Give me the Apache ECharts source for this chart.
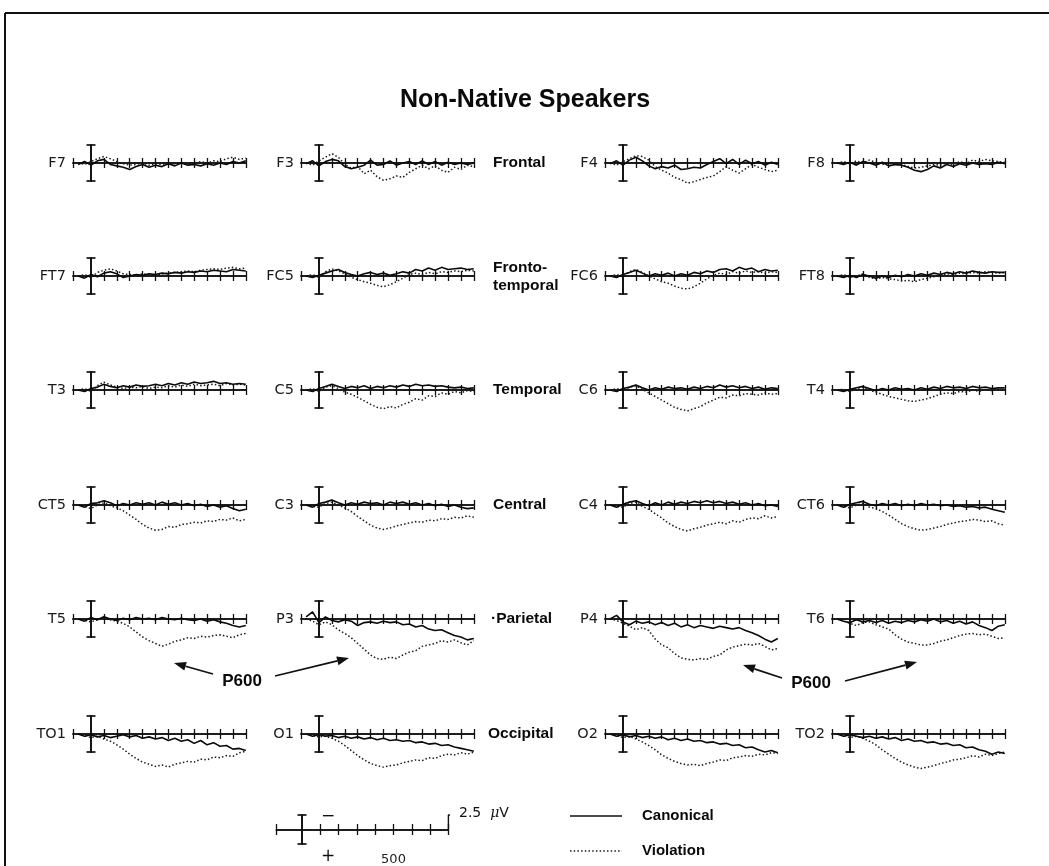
<!DOCTYPE html>
<html><head><meta charset="utf-8">
<script src="https://cdn.jsdelivr.net/npm/echarts@6/dist/echarts.min.js"></script>
<style>html,body{margin:0;padding:0;background:#fff}#c{width:1049px;height:866px}</style>
</head><body><div id="c"></div>
<script>
// ---------------- DATA ----------------
const times = [-100,-50,0,50,100,150,200,250,300,350,400,450,500,550,600,650,700,750,800,850,900,950,1000,1050,1100,1150,1200];
const electrodeRows = [
  ['F7','F3','F4','F8'],
  ['FT7','FC5','FC6','FT8'],
  ['T3','C5','C6','T4'],
  ['CT5','C3','C4','CT6'],
  ['T5','P3','P4','T6'],
  ['TO1','O1','O2','TO2']
];
const regionLabels = ['Frontal','Fronto-\ntemporal','Temporal','Central','·Parietal','Occipital'];
const xTickValues = [-140,100,200,300,400,500,600,700,800,900,1000,1100,1200];
const legendTickValues = [-140,100,200,300,400,500,600,700,800];
const legendTickLabels = [500];
const seriesNames = ['Canonical','Violation'];

// canonical (c) and violation (v) in microvolts, positive plotted downward
const cF7 = [0.2,-0.2,0.3,-0.3,-0.5,0.2,0.4,0.6,0.9,0.5,0.2,0.6,0.3,0.5,0.1,0.4,0.0,0.3,0.2,0.4,0.1,0.3,0.0,0.2,-0.2,0.0,-0.3];
const vF7 = [0.0,0.2,-0.2,-0.6,-0.9,-0.6,-0.2,0.1,0.3,0.2,0.0,0.3,0.1,0.2,0.0,0.1,-0.1,0.2,0.0,-0.2,0.0,-0.3,-0.2,-0.6,-0.8,-0.5,-0.7];
const cF3 = [0.1,-0.3,0.4,-0.2,-0.5,-0.3,0.5,0.8,0.6,0.3,-0.4,0.3,0.2,-0.3,0.3,0.0,-0.2,0.2,-0.3,0.2,-0.2,0.3,-0.1,0.2,0.0,0.2,0.0];
const vF3 = [0.0,0.3,-0.3,-0.8,-1.3,-0.8,0.2,0.7,0.5,1.5,1.0,1.9,2.4,2.2,1.8,2.0,1.3,0.8,0.3,0.8,0.4,1.0,1.3,0.6,0.9,0.3,0.5];
const cF4 = [0.1,-0.3,0.3,-0.4,-0.8,-0.3,0.4,0.8,0.5,0.7,0.3,0.9,0.8,0.6,0.7,0.2,-0.2,-0.6,0.1,-0.5,0.2,-0.4,0.1,-0.2,0.3,-0.1,0.2];
const vF4 = [0.0,0.3,-0.2,-0.6,-1.0,-0.9,-0.4,0.5,1.0,1.4,2.0,2.3,2.8,2.6,2.3,2.0,1.8,1.2,0.5,1.0,1.4,0.8,0.2,0.6,0.9,1.2,1.0];
const cF8 = [0.0,0.2,-0.1,0.3,-0.2,0.0,0.3,-0.1,0.4,0.2,0.3,0.6,1.0,1.2,0.9,0.4,0.7,0.2,0.5,0.1,0.3,0.0,0.2,0.1,0.2,-0.1,0.1];
const vF8 = [0.0,-0.2,0.1,-0.3,0.0,-0.4,-0.1,0.2,0.0,0.3,0.2,0.5,0.7,0.6,0.4,0.2,0.3,0.0,0.2,-0.2,0.1,-0.4,-0.2,-0.5,-0.3,-0.2,-0.1];

const cFT7 = [0.0,0.3,-0.2,0.1,-0.4,-0.6,-0.3,0.2,0.0,-0.2,-0.1,-0.3,-0.2,-0.4,-0.3,-0.5,-0.4,-0.6,-0.5,-0.7,-0.6,-0.8,-0.7,-0.6,-0.9,-0.8,-0.7];
const vFT7 = [0.0,-0.2,0.2,-0.5,-0.8,-1.0,-0.7,-0.3,-0.2,-0.1,-0.3,-0.2,0.0,-0.3,-0.4,-0.5,-0.6,-0.7,-0.6,-0.8,-0.9,-1.0,-0.9,-1.1,-1.2,-1.0,-1.1];
const cFC5 = [0.0,0.2,-0.1,-0.4,-0.7,-0.9,-0.5,-0.2,0.0,-0.3,-0.5,-0.2,-0.4,-0.1,-0.3,-0.6,-0.4,-0.9,-0.7,-1.1,-0.8,-1.2,-0.9,-1.0,-1.1,-0.9,-1.0];
const vFC5 = [0.0,-0.2,0.2,-0.6,-1.0,-0.7,-0.3,0.2,0.5,0.8,1.0,1.3,1.5,1.2,0.8,0.3,-0.2,-0.4,-0.2,-0.5,-0.3,-0.6,-0.5,-0.7,-0.6,-0.8,-0.7];
const cFC6 = [0.0,0.2,-0.2,-0.5,-0.8,-0.4,0.0,-0.3,-0.1,-0.4,0.0,-0.3,-0.1,-0.5,-0.3,-0.7,-0.5,-0.9,-1.0,-0.7,-1.2,-0.9,-1.1,-0.6,-0.9,-0.7,-0.8];
const vFC6 = [0.0,-0.2,0.1,-0.6,-0.9,-0.5,0.0,0.4,0.8,1.0,1.4,1.7,1.8,1.5,1.0,0.4,-0.1,-0.4,-0.2,-0.6,-0.4,-0.7,-0.5,-0.6,-0.4,-0.6,-0.5];
const cFT8 = [0.0,0.2,-0.1,0.2,-0.2,0.0,0.3,0.0,0.2,-0.1,0.1,-0.2,0.0,-0.3,-0.1,-0.4,-0.2,-0.5,-0.3,-0.6,-0.4,-0.7,-0.5,-0.4,-0.6,-0.5,-0.5];
const vFT8 = [0.0,-0.2,0.2,0.0,-0.3,0.2,0.4,0.2,0.4,0.5,0.7,0.6,0.8,0.5,0.3,0.1,-0.1,-0.3,-0.2,-0.4,-0.3,-0.5,-0.4,-0.6,-0.5,-0.4,-0.5];

const cT3 = [0.0,0.2,-0.2,-0.4,-0.8,-0.5,-0.3,-0.6,-0.4,-0.7,-0.5,-0.6,-0.8,-0.6,-0.9,-0.7,-1.0,-0.8,-1.1,-0.9,-1.0,-1.2,-0.9,-1.0,-0.8,-0.9,-0.8];
const vT3 = [0.0,-0.2,0.2,-0.6,-1.1,-0.7,-0.4,-0.2,-0.4,-0.3,-0.5,-0.2,-0.4,-0.3,-0.6,-0.4,-0.7,-0.5,-0.8,-0.6,-0.7,-0.8,-0.6,-0.9,-0.7,-0.8,-0.7];
const cC5 = [0.0,0.2,-0.2,-0.5,-0.8,-0.5,-0.2,-0.5,-0.3,-0.6,-0.2,-0.5,-0.3,-0.6,-0.4,-0.7,-0.5,-0.8,-0.6,-0.7,-0.5,-0.6,-0.4,-0.3,-0.4,-0.2,-0.3];
const vC5 = [0.0,-0.2,0.2,-0.4,-0.6,-0.2,0.3,0.6,1.0,1.5,2.0,2.4,2.6,2.3,2.5,2.0,1.7,1.2,1.4,0.8,0.9,0.4,0.6,0.2,0.4,0.1,0.2];
const cC6 = [0.0,0.2,-0.2,-0.4,-0.7,-0.3,0.0,-0.3,-0.1,-0.4,-0.2,-0.3,-0.1,-0.4,-0.2,-0.5,-0.3,-0.7,-0.4,-0.6,-0.3,-0.5,-0.2,-0.4,-0.1,-0.3,-0.2];
const vC6 = [0.0,-0.2,0.1,-0.4,-0.6,-0.1,0.4,0.9,1.4,1.9,2.4,2.7,2.9,2.6,2.3,1.8,1.4,1.0,1.1,0.7,0.8,0.5,0.6,0.7,0.4,0.6,0.5];
const cT4 = [0.0,0.2,-0.1,-0.3,-0.5,-0.2,0.1,-0.2,0.0,-0.3,-0.1,-0.2,0.0,-0.3,-0.1,-0.4,-0.2,-0.5,-0.3,-0.4,-0.2,-0.5,-0.3,-0.4,-0.2,-0.3,-0.3];
const vT4 = [0.0,-0.1,0.2,-0.2,-0.4,0.0,0.3,0.6,0.9,1.1,1.3,1.5,1.6,1.4,1.2,0.9,0.6,0.4,0.5,0.2,0.3,0.0,0.2,-0.1,0.1,-0.1,0.0];

const cCT5 = [0.0,0.3,-0.2,-0.3,-0.6,-0.3,0.1,-0.2,0.0,-0.3,-0.1,-0.3,0.0,-0.4,-0.1,-0.3,0.0,-0.2,0.1,-0.1,0.2,0.0,0.3,0.1,0.5,0.8,0.6];
const vCT5 = [0.0,0.2,0.5,0.0,-0.3,0.1,0.4,0.8,1.4,2.0,2.7,3.2,3.5,3.4,3.0,3.1,2.7,2.6,2.4,2.5,2.2,2.3,2.0,2.1,1.8,2.2,2.0];
const cC3 = [0.0,0.3,-0.2,-0.4,-0.7,-0.3,0.0,-0.3,-0.1,-0.4,-0.2,-0.3,0.0,-0.4,-0.2,-0.4,-0.1,-0.3,0.0,-0.2,0.1,-0.1,0.2,0.0,0.3,0.5,0.4];
const vC3 = [0.0,0.2,0.3,-0.2,-0.4,0.0,0.4,0.9,1.6,2.2,2.8,3.2,3.4,3.2,2.9,2.7,2.5,2.3,2.4,2.1,2.2,1.9,2.0,1.7,1.8,1.5,1.7];
const cC4 = [0.0,0.3,-0.1,-0.4,-0.6,-0.2,0.1,-0.3,0.0,-0.4,-0.1,-0.4,-0.2,-0.5,-0.3,-0.6,-0.3,-0.5,-0.2,-0.4,-0.1,-0.3,0.0,-0.2,0.1,0.0,0.2];
const vC4 = [0.0,0.2,0.3,-0.2,-0.4,0.2,0.6,1.2,1.8,2.5,3.0,3.4,3.6,3.3,3.1,2.8,2.6,2.4,2.6,2.2,2.4,2.0,1.8,1.9,1.5,1.8,1.6];
const cCT6 = [0.0,0.3,-0.1,-0.3,-0.5,-0.1,0.1,-0.2,0.0,-0.2,0.1,-0.1,0.1,-0.2,0.0,-0.1,0.1,0.0,0.2,0.1,0.3,0.2,0.4,0.3,0.6,0.8,1.0];
const vCT6 = [0.0,0.2,0.4,0.0,-0.2,0.3,0.5,0.9,1.4,2.0,2.6,3.0,3.3,3.5,3.4,3.2,3.0,2.7,2.5,2.3,2.2,2.0,2.1,2.3,2.2,2.6,2.8];

const cT5 = [0.0,0.3,-0.2,0.1,-0.3,0.0,0.2,-0.1,0.1,-0.2,0.0,-0.1,0.1,-0.2,0.0,0.1,-0.1,0.1,0.2,0.0,0.3,0.1,0.4,0.6,0.9,1.1,0.9];
const vT5 = [0.0,0.2,0.4,0.1,-0.2,0.1,0.3,0.6,1.1,1.8,2.5,3.0,3.4,3.8,3.5,3.1,2.9,2.6,2.7,2.4,2.5,2.3,2.2,2.4,2.6,2.2,2.0];
const cP3 = [-0.3,-1.0,0.5,-0.3,0.2,0.4,0.1,0.3,0.9,0.5,0.4,0.6,0.3,0.5,0.4,0.8,0.7,1.1,0.9,1.4,1.6,1.5,1.9,2.3,2.5,2.9,2.7];
const vP3 = [0.0,0.3,0.8,0.4,0.8,1.5,2.0,2.6,3.4,4.2,5.0,5.5,5.6,5.3,5.5,5.0,4.6,4.4,3.8,3.6,3.4,3.0,3.2,2.9,3.3,3.6,3.0];
const cP4 = [0.0,-0.5,0.4,0.8,0.3,0.6,0.4,0.8,0.5,0.9,0.6,1.1,0.8,1.2,0.9,1.1,1.3,1.0,1.2,1.4,1.2,1.6,1.9,2.3,2.8,3.2,2.7];
const vP4 = [0.0,0.2,0.6,1.0,1.5,1.2,1.6,2.8,3.6,4.0,4.8,5.4,5.6,5.7,5.5,5.6,5.2,5.0,4.3,3.9,3.7,3.5,3.6,3.4,3.8,4.3,4.1];
const cT6 = [0.0,0.3,0.5,0.1,0.4,0.2,0.5,0.2,0.6,0.3,0.5,0.2,0.4,0.1,0.3,0.0,0.4,0.2,0.6,0.3,0.7,0.4,0.9,1.2,1.6,1.0,0.8];
const vT6 = [0.0,0.3,0.6,0.9,0.5,0.4,0.8,1.1,1.4,2.2,2.8,3.2,3.4,3.6,3.6,3.4,3.1,2.9,2.6,2.3,2.1,2.0,2.2,2.1,2.4,2.7,2.6];

const cTO1 = [0.0,0.3,0.1,0.4,0.2,0.5,0.3,0.1,0.4,0.2,0.6,0.4,0.7,0.5,0.9,0.6,1.0,0.8,1.3,0.9,1.5,1.2,1.7,1.6,2.1,2.0,2.3];
const vTO1 = [0.0,0.2,0.5,0.3,0.7,1.0,1.5,2.1,2.8,3.4,3.9,4.2,4.5,4.3,4.6,4.2,4.0,3.8,3.9,3.5,3.6,3.2,3.3,3.0,3.1,2.6,2.4];
const cO1 = [0.0,0.3,0.1,0.3,0.2,0.5,0.3,0.6,0.4,0.7,0.5,0.8,0.6,0.9,0.8,1.0,0.9,1.2,1.1,1.4,1.3,1.6,1.5,1.8,2.0,2.2,2.4];
const vO1 = [0.0,0.2,0.4,0.3,0.6,1.0,1.6,2.3,3.0,3.6,4.1,4.4,4.6,4.4,4.3,4.0,3.8,3.6,3.7,3.3,3.4,3.0,2.8,2.9,2.6,2.8,2.5];
const cO2 = [0.0,0.3,0.1,0.4,0.2,0.5,0.3,0.6,0.4,0.8,0.6,0.9,0.7,1.0,0.9,1.2,1.1,1.4,1.3,1.6,1.5,1.9,1.8,2.2,2.5,2.3,2.6];
const vO2 = [0.0,0.2,0.5,0.3,0.7,1.1,1.6,2.2,2.9,3.4,3.8,4.1,4.3,4.2,4.4,4.1,3.9,3.6,3.7,3.3,3.2,3.0,3.1,2.8,2.9,2.6,2.7];
const cTO2 = [0.0,0.3,0.1,0.3,0.5,0.3,0.6,0.4,0.7,0.5,0.9,0.7,1.0,0.9,1.2,1.1,1.4,1.3,1.6,1.5,1.9,1.8,2.2,2.4,2.8,2.5,2.7];
const vTO2 = [0.0,0.2,0.5,0.3,0.6,1.0,1.5,2.2,2.8,3.4,3.9,4.3,4.6,4.8,4.6,4.4,4.1,3.9,3.6,3.5,3.3,3.0,3.2,2.8,3.0,2.7,2.5];

const traces = {
  F7:[cF7,vF7], F3:[cF3,vF3], F4:[cF4,vF4], F8:[cF8,vF8],
  FT7:[cFT7,vFT7], FC5:[cFC5,vFC5], FC6:[cFC6,vFC6], FT8:[cFT8,vFT8],
  T3:[cT3,vT3], C5:[cC5,vC5], C6:[cC6,vC6], T4:[cT4,vT4],
  CT5:[cCT5,vCT5], C3:[cC3,vC3], C4:[cC4,vC4], CT6:[cCT6,vCT6],
  T5:[cT5,vT5], P3:[cP3,vP3], P4:[cP4,vP4], T6:[cT6,vT6],
  TO1:[cTO1,vTO1], O1:[cO1,vO1], O2:[cO2,vO2], TO2:[cTO2,vTO2]
};

// ---------------- LAYOUT ----------------
const colBar = [91, 319, 623, 850];        // x pixel of time 0
const rowBase = [163, 276, 390, 505, 619, 734];
const pxPerMs = 0.129;
const xMin = -140, xMax = 1200;
const barHalf = 18;   // px for 2.5 uV
const INK = '#111';

const grids = [], xAxes = [], yAxes = [], series = [], graphics = [];

function addPanel(left, top, width, height, xmin, xmax, tickVals, labelVals, tickLen) {
  const gi = grids.length;
  grids.push({left, top, width, height, containLabel:false});
  [false, true].forEach(inside => {
    xAxes.push({
      type:'value', gridIndex:gi, min:xmin, max:xmax, position:'bottom',
      axisLine:{show:true, onZero:true, lineStyle:{color:INK, width:1.5}},
      axisTick:{show:true, inside, length:tickLen, customValues:tickVals, lineStyle:{color:INK, width:1.3}},
      axisLabel:{show:!inside && !!labelVals, customValues:labelVals || [], margin:9,
                 fontFamily:'DejaVu Sans', fontSize:13, color:'#222'},
      splitLine:{show:false}
    });
    yAxes.push({
      type:'value', gridIndex:gi, min:-2.5, max:2.5, inverse:true, position:'left',
      axisLine:{show:true, onZero:true, lineStyle:{color:INK, width:1.7}},
      axisTick:{show:true, inside, length:4.5, customValues:[-2.5, 2.5], lineStyle:{color:INK, width:1.7}},
      axisLabel:{show:false}, splitLine:{show:false}
    });
  });
  return gi;
}

electrodeRows.forEach((row, r) => {
  row.forEach((name, c) => {
    const left = colBar[c] + xMin * pxPerMs;
    const width = (xMax - xMin) * pxPerMs;
    const gi = addPanel(left, rowBase[r] - barHalf, width, barHalf * 2, xMin, xMax, xTickValues, null, 5);
    const [cv, vv] = traces[name];
    series.push({
      type:'line', name:seriesNames[0], xAxisIndex:2*gi, yAxisIndex:2*gi, clip:false,
      showSymbol:false, silent:true, z:3,
      lineStyle:{color:'#0a0a0a', width:1.6},
      data: times.map((t, i) => [t, cv[i]])
    });
    series.push({
      type:'line', name:seriesNames[1], xAxisIndex:2*gi, yAxisIndex:2*gi, clip:false,
      showSymbol:false, silent:true, z:2,
      lineStyle:{color:'#1a1a1a', width:1.5, type:[1.5, 2.2]},
      data: times.map((t, i) => [t, vv[i]])
    });
    graphics.push({type:'text', x:left - 7, y:rowBase[r], style:{
      text:name, x:0, y:0, fill:'#1a1a1a', font:'14.5px "DejaVu Sans"', align:'right', verticalAlign:'middle'}});
  });
});

// region labels
const regionX = [493, 493, 493, 493, 491, 488];
regionLabels.forEach((lab, r) => {
  const two = lab.indexOf('\n') >= 0;
  graphics.push({type:'text', x:regionX[r], y: rowBase[r] + (two ? 1 : 0), style:{
    text:lab, fill:'#0a0a0a', font:'bold 15.5px "Liberation Sans"', align:'left', verticalAlign:'middle', lineHeight:18}});
});

// legend scale bar
const lgBar = 302, lgPx = 0.183, lgBase = 834, lgHalf = 19;
const lgi = addPanel(lgBar - 140 * lgPx, lgBase - lgHalf, 940 * lgPx, lgHalf * 2, -140, 800, legendTickValues, legendTickLabels, 5.5);
series.push({type:'line', xAxisIndex:2*lgi, yAxisIndex:2*lgi, clip:false, showSymbol:false, silent:true,
  lineStyle:{color:INK, width:1.4}, data:[[800, 0], [800, -2.5], [830, -2.5]]});

// title
graphics.push({type:'text', x:525, y:100, style:{text:'Non-Native Speakers', fill:'#0a0a0a',
  font:'bold 25px "Liberation Sans"', align:'center', verticalAlign:'middle'}});

// frame
graphics.push({type:'line', shape:{x1:5, y1:13, x2:1049, y2:13}, style:{stroke:'#111', lineWidth:2}});
graphics.push({type:'line', shape:{x1:5, y1:13, x2:5, y2:866}, style:{stroke:'#111', lineWidth:2}});

// P600 annotations
function arrow(x1, y1, x2, y2) {
  const dx = x2 - x1, dy = y2 - y1, L = Math.hypot(dx, dy), ux = dx / L, uy = dy / L;
  const hl = 12, hw = 4.5;
  const bx = x2 - ux * hl, by = y2 - uy * hl;
  graphics.push({type:'line', shape:{x1, y1, x2:bx, y2:by}, style:{stroke:'#111', lineWidth:1.8}});
  graphics.push({type:'polygon', shape:{points:[[x2, y2], [bx - uy * hw, by + ux * hw], [bx + uy * hw, by - ux * hw]]}, style:{fill:'#111'}});
}
const p600 = [
  {tx:242, ty:681, a:[[213,674,174,663],[275,676,349,658]]},
  {tx:811, ty:683, a:[[782,678,743,665],[845,681,917,662]]}
];
p600.forEach(p => {
  graphics.push({type:'text', x:p.tx, y:p.ty, style:{text:'P600', fill:'#0a0a0a', font:'bold 17px "Liberation Sans"', align:'center', verticalAlign:'middle'}});
  p.a.forEach(a => arrow(a[0], a[1], a[2], a[3]));
});

// legend scale texts
graphics.push({type:'text', x:328, y:817, style:{text:'−', fill:'#111', font:'17px "DejaVu Sans"', align:'center', verticalAlign:'middle'}});
graphics.push({type:'text', x:328, y:857, style:{text:'+', fill:'#111', font:'17px "DejaVu Sans"', align:'center', verticalAlign:'middle'}});
graphics.push({type:'text', x:459, y:813, style:{text:'{a|2.5  }{b|μ}{a|V}', fill:'#111', align:'left', verticalAlign:'middle',
  rich:{a:{font:'14px "DejaVu Sans"', fill:'#111'}, b:{font:'italic 14px "DejaVu Serif"', fill:'#111'}}}});

// line legend
graphics.push({type:'line', shape:{x1:570, y1:816, x2:622, y2:816}, style:{stroke:'#111', lineWidth:1.5}});
graphics.push({type:'line', shape:{x1:570, y1:851, x2:622, y2:851}, style:{stroke:'#1a1a1a', lineWidth:1.4, lineDash:[1.5, 2.2]}});
graphics.push({type:'text', x:642, y:816, style:{text:seriesNames[0], fill:'#0a0a0a', font:'bold 15px "Liberation Sans"', align:'left', verticalAlign:'middle'}});
graphics.push({type:'text', x:642, y:851, style:{text:seriesNames[1], fill:'#0a0a0a', font:'bold 15px "Liberation Sans"', align:'left', verticalAlign:'middle'}});

const chart = echarts.init(document.getElementById('c'), null, {renderer:'canvas'});
chart.setOption({
  animation:false,
  backgroundColor:'#fff',
  grid:grids, xAxis:xAxes, yAxis:yAxes, series,
  graphic:{elements:graphics}
});
</script>
</body></html>
